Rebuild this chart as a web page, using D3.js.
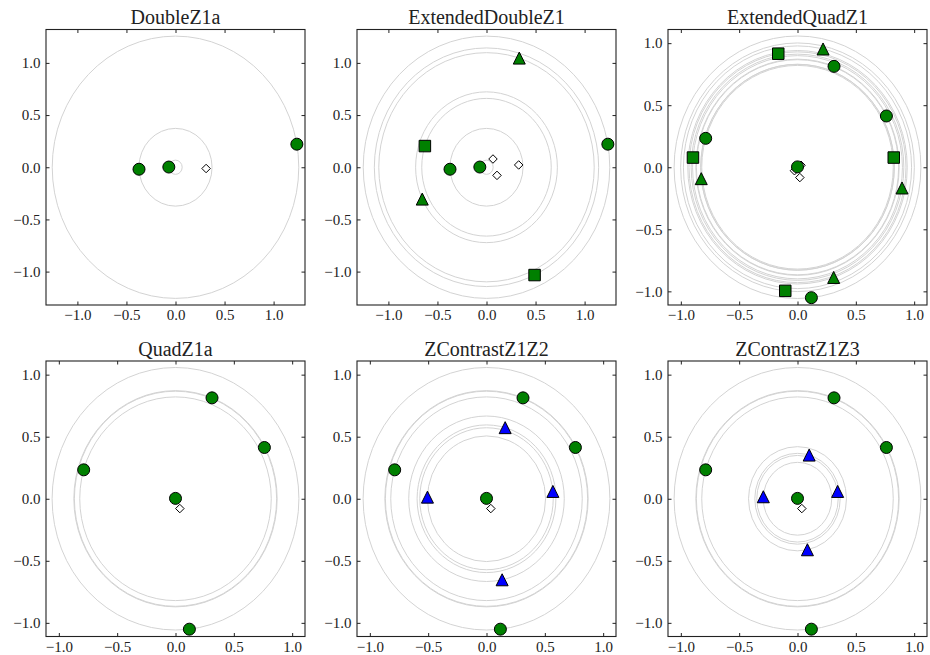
<!DOCTYPE html>
<html>
<head>
<meta charset="utf-8">
<script src="https://cdn.jsdelivr.net/npm/d3@7"></script>
<style>
  html, body { margin: 0; padding: 0; background: #fff; }
  svg text { font-family: "Liberation Serif", "Times New Roman", serif; fill: #222; }
</style>
</head>
<body>
<svg id="chart" width="930" height="655"></svg>
<script>
// ---------------- data ----------------
const panelTitles = ["DoubleZ1a", "ExtendedDoubleZ1", "ExtendedQuadZ1",
                     "QuadZ1a", "ZContrastZ1Z2", "ZContrastZ1Z3"];
const axisLimits = [1.32, 1.32, 1.11, 1.11, 1.11, 1.11];
const tickValues = [-1.0, -0.5, 0.0, 0.5, 1.0];

// DoubleZ1a
const doubleCircles   = [[1.237, 0.221], [-0.372, -0.019], [-0.068, 0.002]];
const doubleDiamonds  = [[0.312, -0.012]];
// ExtendedDoubleZ1
const extDoubleCircles   = [[1.237, 0.221], [-0.372, -0.019], [-0.068, 0.002]];
const extDoubleSquares   = [[-0.628, 0.203], [0.490, -1.033]];
const extDoubleTriangles = [[0.334, 1.046], [-0.655, -0.305]];
const extDoubleDiamonds  = [[0.066, 0.079], [0.107, -0.078], [0.328, 0.022]];
// ExtendedQuadZ1
const quadCircles       = [[0.313, 0.813], [0.762, 0.413], [-0.787, 0.233], [0.119, -1.051], [0.0, 0.003]];
const extQuadSquares    = [[-0.165, 0.915], [0.825, 0.078], [-0.896, 0.078], [-0.105, -0.996]];
const extQuadTriangles  = [[0.219, 0.953], [-0.825, -0.092], [0.896, -0.167], [0.310, -0.888]];
const extQuadDiamonds   = [[0.030, 0.016], [-0.026, -0.028], [0.020, -0.083]];
// QuadZ1a
const quadDiamonds      = [[0.037, -0.079]];
// ZContrastZ1Z2
const z1z2BlueTriangles = [[0.160, 0.573], [-0.506, 0.013], [0.569, 0.059], [0.134, -0.653]];
const z1z2Diamonds      = [[0.037, -0.079]];
// ZContrastZ1Z3
const z1z3BlueTriangles = [[0.100, 0.352], [-0.293, 0.016], [0.344, 0.059], [0.085, -0.411]];
const z1z3Diamonds      = [[0.037, -0.079]];

const panels = [
  {circles: doubleCircles, squares: [], triangles: [], blue: [], diamonds: doubleDiamonds},
  {circles: extDoubleCircles, squares: extDoubleSquares, triangles: extDoubleTriangles, blue: [], diamonds: extDoubleDiamonds},
  {circles: quadCircles, squares: extQuadSquares, triangles: extQuadTriangles, blue: [], diamonds: extQuadDiamonds},
  {circles: quadCircles, squares: [], triangles: [], blue: [], diamonds: quadDiamonds},
  {circles: quadCircles, squares: [], triangles: [], blue: z1z2BlueTriangles, diamonds: z1z2Diamonds},
  {circles: quadCircles, squares: [], triangles: [], blue: z1z3BlueTriangles, diamonds: z1z3Diamonds}
];

// ---------------- layout ----------------
const colLeft = [46, 357, 668];
const rowTop = [29.5, 361];
const boxW = 259, boxH = 275.5;
const GREEN = "#008000", BLUE = "#0000ff", RING = "#d3d3d3";

const svg = d3.select("#chart");

function triPath(s) {
  const h = s / 2;
  return `M0,${-h}L${h},${h}L${-h},${h}Z`;
}
function sqPath(s) {
  const h = s / 2;
  return `M${-h},${-h}L${h},${-h}L${h},${h}L${-h},${h}Z`;
}
function diaPath(s) {
  const h = s / 2;
  return `M0,${-h}L${h},0L0,${h}L${-h},0Z`;
}

panels.forEach((p, i) => {
  const col = i % 3, row = Math.floor(i / 3);
  const L = axisLimits[i];
  const g = svg.append("g").attr("transform", `translate(${colLeft[col]},${rowTop[row]})`);
  const x = d3.scaleLinear().domain([-L, L]).range([0, boxW]);
  const y = d3.scaleLinear().domain([-L, L]).range([boxH, 0]);

  const clipId = "clip" + i;
  g.append("clipPath").attr("id", clipId).append("rect")
    .attr("width", boxW).attr("height", boxH);
  const plot = g.append("g").attr("clip-path", `url(#${clipId})`);

  // rings through every coloured marker, centred at origin
  const ringPts = [].concat(p.circles, p.squares, p.triangles, p.blue);
  plot.selectAll("ellipse.ring").data(ringPts).join("ellipse")
    .attr("class", "ring")
    .attr("cx", x(0)).attr("cy", y(0))
    .attr("rx", d => x(Math.hypot(d[0], d[1])) - x(0))
    .attr("ry", d => y(0) - y(Math.hypot(d[0], d[1])))
    .attr("fill", "none").attr("stroke", RING).attr("stroke-width", 1);

  // diamonds (below markers)
  plot.selectAll("path.dia").data(p.diamonds).join("path")
    .attr("class", "dia")
    .attr("transform", d => `translate(${x(d[0])},${y(d[1])})`)
    .attr("d", diaPath(8.5))
    .attr("fill", "#fff").attr("stroke", "#000").attr("stroke-width", 1);

  plot.selectAll("circle.mk").data(p.circles).join("circle")
    .attr("class", "mk")
    .attr("cx", d => x(d[0])).attr("cy", d => y(d[1])).attr("r", 6)
    .attr("fill", GREEN).attr("stroke", "#000").attr("stroke-width", 1);

  plot.selectAll("path.sq").data(p.squares).join("path")
    .attr("class", "sq")
    .attr("transform", d => `translate(${x(d[0])},${y(d[1])})`)
    .attr("d", sqPath(11.5))
    .attr("fill", GREEN).attr("stroke", "#000").attr("stroke-width", 1);

  plot.selectAll("path.tri").data(p.triangles).join("path")
    .attr("class", "tri")
    .attr("transform", d => `translate(${x(d[0])},${y(d[1])})`)
    .attr("d", triPath(12))
    .attr("fill", GREEN).attr("stroke", "#000").attr("stroke-width", 1)
    .attr("stroke-linejoin", "miter");

  plot.selectAll("path.btri").data(p.blue).join("path")
    .attr("class", "btri")
    .attr("transform", d => `translate(${x(d[0])},${y(d[1])})`)
    .attr("d", triPath(12))
    .attr("fill", BLUE).attr("stroke", "#000").attr("stroke-width", 1)
    .attr("stroke-linejoin", "miter");

  // axes: inward ticks on all four sides
  const fmt = d3.format(".1f");
  const tl = 3.5;
  const ax = g.append("g").attr("transform", `translate(0,${boxH})`)
    .call(d3.axisBottom(x).tickValues(tickValues).tickFormat(fmt).tickSizeInner(-tl).tickSizeOuter(0).tickPadding(4.5));
  const ay = g.append("g")
    .call(d3.axisLeft(y).tickValues(tickValues).tickFormat(fmt).tickSizeInner(-tl).tickSizeOuter(0).tickPadding(5.5));
  const at = g.append("g")
    .call(d3.axisTop(x).tickValues(tickValues).tickFormat("").tickSizeInner(-tl).tickSizeOuter(0));
  const ar = g.append("g").attr("transform", `translate(${boxW},0)`)
    .call(d3.axisRight(y).tickValues(tickValues).tickFormat("").tickSizeInner(-tl).tickSizeOuter(0));
  [ax, ay, at, ar].forEach(a => {
    a.select(".domain").remove();
    a.selectAll(".tick line").attr("stroke", "#222").attr("stroke-width", 1);
    a.selectAll(".tick text").attr("font-size", 15).attr("font-family", "Liberation Serif, serif").attr("fill", "#222");
  });

  g.append("rect").attr("width", boxW).attr("height", boxH)
    .attr("fill", "none").attr("stroke", "#222").attr("stroke-width", 1.1);

  g.append("text").attr("x", boxW / 2).attr("y", -5.5)
    .attr("text-anchor", "middle").attr("font-size", 20)
    .text(panelTitles[i]);
});
</script>
</body>
</html>
